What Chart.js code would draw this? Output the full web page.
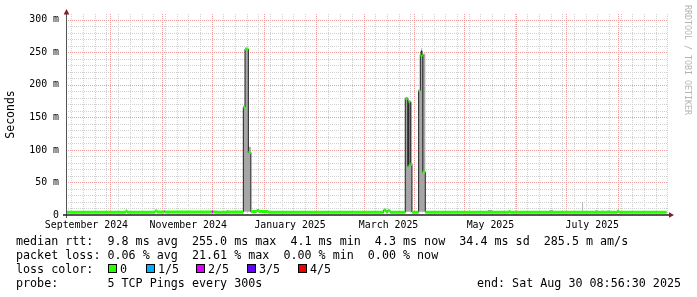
<!DOCTYPE html>
<html><head><meta charset="utf-8">
<script src="https://cdn.jsdelivr.net/npm/chart.js@4.4.1/dist/chart.umd.min.js"></script>
<style>
html,body{margin:0;padding:0;background:#fff;}
#wrap{position:relative;width:697px;height:297px;overflow:hidden;background:#fff;font-family:"DejaVu Sans Mono",monospace;color:#000;}
#c{position:absolute;left:0;top:0;}
.ln{position:absolute;font-size:11.7px;line-height:14px;white-space:pre;}
.box{position:absolute;width:7px;height:7px;border:1px solid #000;top:264px;}
#wm{position:absolute;left:683px;top:5px;writing-mode:vertical-rl;font-size:8.3px;line-height:9px;color:#b4b4b4;white-space:pre;}
</style></head>
<body>
<div id="wrap">
<canvas id="c" width="697" height="297"></canvas>
<div class="ln" style="left:16px;top:233.5px">median rtt:  9.8 ms avg  255.0 ms max  4.1 ms min  4.3 ms now  34.4 ms sd  285.5 m am/s</div>
<div class="ln" style="left:16px;top:247.5px">packet loss: 0.06 % avg  21.61 % max  0.00 % min  0.00 % now</div>
<div class="ln" style="left:16px;top:261.5px">loss color:</div>
<div id="legend"></div>
<div class="ln" style="left:16px;top:275.5px">probe:       5 TCP Pings every 300s</div>
<div class="ln" style="right:16px;top:275.5px">end: Sat Aug 30 08:56:30 2025</div>
<div id="wm">RRDTOOL / TOBI OETIKER</div>
</div>
<script>
// ---- time range ----
const startTime = "2024-09-04T08:56:30";
const endTime   = "2025-08-30T08:56:30";

// ---- data: each row starts a step that lasts until the next date ----
const breakDates = [
  "2024-09-04T08:56:30","2024-10-09T12:00","2024-10-10T12:00","2024-10-27T00:00","2024-10-28T12:00",
  "2024-11-01T12:00","2024-11-02T00:00","2024-11-30T00:00","2024-12-01T00:00","2024-12-03T00:00",
  "2024-12-09T00:00","2024-12-10T00:00","2024-12-19T00:00","2024-12-20T00:00","2024-12-22T00:00",
  "2024-12-23T12:00","2024-12-27T00:00","2024-12-28T12:00","2025-01-03T00:00","2025-03-13T00:00",
  "2025-03-14T12:00","2025-03-15T12:00","2025-03-17T00:00","2025-03-26T00:00","2025-03-27T12:00",
  "2025-03-28T00:00","2025-03-29T00:00","2025-03-30T00:00","2025-04-03T00:00","2025-04-04T00:00",
  "2025-04-04T12:00","2025-04-05T00:00","2025-04-05T12:00","2025-04-07T00:00","2025-05-14T12:00",
  "2025-05-17T00:00","2025-05-27T00:00","2025-05-28T00:00","2025-06-20T12:00","2025-06-22T12:00",
  "2025-07-10T00:00","2025-07-10T12:00","2025-07-18T00:00","2025-07-19T00:00","2025-07-22T00:00",
  "2025-07-22T12:00","2025-07-25T00:00","2025-07-26T12:00","2025-07-31T00:00","2025-08-01T00:00",
  "2025-08-29T12:00"
];
const medianMs = [
  4.1, 6.0, 4.1, 6.0, 4.8,
  4.8, 4.8, 4.8, 4.8, 4.1,
  4.8, 4.8, 166, 255, 96,
  5.2, 7.0, 5.2, 4.1, 7.5,
  4.5, 6.5, 4.1, 179, 75,
  174, 78, 4.3, 191, 246,
  252, 246, 66, 4.3, 4.3,
  4.3, 5.2, 4.3, 4.3, 4.3,
  4.3, 4.3, 4.3, 4.3, 4.3,
  4.3, 4.3, 4.3, 6.0, 4.3,
  4.3
];
const smokeLowMs = [
  4.1, 6.0, 4.1, 6.0, 4.8,
  4.8, 4.8, 4.8, 4.8, 4.1,
  4.8, 4.8, 5, 5, 5,
  5.2, 7.0, 5.2, 4.1, 7.5,
  4.5, 6.5, 4.1, 5, 5,
  5, 5, 4.3, 5, 5,
  5, 5, 5, 4.3, 4.3,
  4.3, 5.2, 4.3, 4.3, 4.3,
  4.3, 4.3, 4.3, 4.3, 4.3,
  4.3, 4.3, 4.3, 6.0, 4.3,
  4.3
];
const smokeHighMs = [
  4.1, 6.0, 4.1, 6.0, 4.8,
  8.0, 4.8, 4.8, 4.8, 4.1,
  7.6, 4.8, 166, 255, 105,
  5.2, 7.0, 5.2, 4.1, 7.5,
  4.5, 6.5, 4.1, 179, 179,
  174, 174, 4.3, 191, 250,
  256, 250, 248, 4.3, 7.6,
  4.3, 5.2, 4.3, 7.6, 4.3,
  19.5, 4.3, 7.6, 4.3, 7.6,
  4.3, 7.0, 4.3, 6.0, 4.3,
  4.3
];
const lossOf5 = [
  0,0,0,0,0, 0,0,2,0,0, 0,0,0,0,0, 0,0,0,0,0, 0,0,0,0,0,
  0,0,0,0,0, 0,0,0,0,0, 0,0,0,0,0, 0,0,0,0,0, 0,0,0,0,0, 0
];

// ---- axis ticks / labels ----
const monthStarts = ["2024-10-01","2024-11-01","2024-12-01","2025-01-01","2025-02-01","2025-03-01",
                     "2025-04-01","2025-05-01","2025-06-01","2025-07-01","2025-08-01"];
const firstWeekLine = "2024-09-07";
const xLabelDates = ["2024-09-16","2024-11-16","2025-01-16","2025-03-16","2025-05-16","2025-07-16"];
const xLabels = ["September 2024","November 2024","January 2025","March 2025","May 2025","July 2025"];
const yLabelValues = [0, 50, 100, 150, 200, 250, 300];
const yLabels = ["0", "50 m", "100 m", "150 m", "200 m", "250 m", "300 m"];
const yMinorStep = 10;
const yTop = 309;

// ---- legend ----
const lossNames  = ["0", "1/5", "2/5", "3/5", "4/5"];
const lossColors = ["#26ff00", "#00b0ff", "#dc00ff", "#6400ff", "#ee0000"];
const legendBoxX   = [108, 146, 196, 247, 298];
const legendLabelX = [120, 158, 208, 259, 310];

// ---- styles ----
const FONT = "'DejaVu Sans Mono', monospace";
const smokeColor = "#a6a6a6";
const minorGrid = "rgb(208,208,208)";
const majorGrid = "rgb(238,156,156)";
const arrowColor = "#801f1f";

const T = s => Date.parse((s.length === 10 ? s + "T00:00" : s) + "Z");
const DAY = 86400000;
const tStart = T(startTime), tEnd = T(endTime);
const xs = breakDates.map(T);

// legend DOM
const lg = document.getElementById('legend');
lossNames.forEach((n, i) => {
  const b = document.createElement('div'); b.className = 'box';
  b.style.left = legendBoxX[i] + 'px'; b.style.background = lossColors[i]; lg.appendChild(b);
  const t = document.createElement('div'); t.className = 'ln';
  t.style.left = legendLabelX[i] + 'px'; t.style.top = '261.5px'; t.textContent = n; lg.appendChild(t);
});

// x grid (weeks minor, months major) and labels
const monthT = monthStarts.map(T);
const xGrid = [];
for (let v = T(firstWeekLine); v < tEnd; v += 7 * DAY) {
  if (!monthT.includes(v)) xGrid.push({value: v, major: false});
}
monthT.forEach(v => xGrid.push({value: v, major: true}));
const xLabelTicks = xLabelDates.map((d, i) => ({value: T(d), txt: xLabels[i]}));

// y grid / labels
const yGrid = [];
for (let v = yMinorStep; v <= 300; v += yMinorStep) yGrid.push({value: v, major: yLabelValues.includes(v)});
const yLabelTicks = yLabelValues.map((v, i) => ({value: v, txt: yLabels[i]}));

// datasets
const lowPts  = xs.map((x, i) => ({x, y: smokeLowMs[i]}));
const highPts = xs.map((x, i) => ({x, y: smokeHighMs[i]}));
const medPts  = xs.map((x, i) => ({x, y: medianMs[i]}));
const lossSets = lossColors.map((c, L) => {
  const pts = [];
  for (let i = 0; i < xs.length - 1; i++) {
    if (lossOf5[i] === L) pts.push({x: xs[i], y: medianMs[i]}, {x: xs[i + 1], y: medianMs[i]}, {x: xs[i + 1], y: null});
  }
  return {data: pts, borderColor: c, borderWidth: 3, pointRadius: 0, fill: false, spanGaps: false, order: 1};
}).filter(d => d.data.length);

// dotted grid, 1px on / 1px off, placed through the chart's scales
const gridPlugin = {
  id: 'rrdgrid',
  beforeDatasetsDraw(chart) {
    const {ctx, chartArea: a, scales: {x, y}} = chart;
    const top = Math.round(a.top), bot = Math.round(a.bottom), left = Math.round(a.left), right = Math.round(a.right);
    const evenLeft = left % 2 ? left + 1 : left;
    ctx.save();
    [false, true].forEach(maj => {
      ctx.fillStyle = maj ? majorGrid : minorGrid;
      xGrid.filter(t => t.major === maj).forEach(t => {
        const p = x.getPixelForValue(t.value);
        const px = maj ? 2 * Math.round((p - 0.5) / 2) : Math.round(p);
        for (let yy = top; yy < bot; yy += 2) ctx.fillRect(px, yy, 1, 1);
      });
      yGrid.filter(t => t.major === maj).forEach(t => {
        const py = Math.round(y.getPixelForValue(t.value));
        for (let xx = evenLeft; xx < right; xx += 2) ctx.fillRect(xx, py, 1, 1);
      });
    });
    ctx.restore();
  }
};

const axisPlugin = {
  id: 'rrdaxes',
  afterDraw(chart) {
    const {ctx, chartArea: a} = chart;
    const ax = Math.round(a.left) - 0.5;
    ctx.save();
    ctx.strokeStyle = '#555'; ctx.lineWidth = 1;
    ctx.beginPath(); ctx.moveTo(ax, a.bottom + 3); ctx.lineTo(ax, a.top - 3); ctx.stroke();
    ctx.strokeStyle = '#1f1f1f'; ctx.lineWidth = 1.6;
    ctx.beginPath(); ctx.moveTo(a.left - 4, a.bottom); ctx.lineTo(a.right + 2, a.bottom); ctx.stroke();
    ctx.fillStyle = arrowColor;
    ctx.beginPath(); ctx.moveTo(ax - 2.8, a.top + 0.5); ctx.lineTo(ax + 2.8, a.top + 0.5); ctx.lineTo(ax, a.top - 5); ctx.closePath(); ctx.fill();
    ctx.beginPath(); ctx.moveTo(a.right + 1, a.bottom - 2.8); ctx.lineTo(a.right + 1, a.bottom + 2.8); ctx.lineTo(a.right + 6, a.bottom); ctx.closePath(); ctx.fill();
    ctx.restore();
  }
};

new Chart(document.getElementById('c'), {
  type: 'line',
  data: {datasets: [
    {data: lowPts, stepped: true, borderWidth: 0, borderColor: 'rgba(0,0,0,0)', pointRadius: 0, fill: false, order: 3},
    {data: highPts, stepped: true, borderWidth: 0, borderColor: 'rgba(0,0,0,0)', backgroundColor: smokeColor, pointRadius: 0, fill: '-1', order: 3},
    {data: medPts, stepped: true, borderWidth: 1, borderColor: '#202020', pointRadius: 0, fill: false, order: 2},
    ...lossSets
  ]},
  options: {
    responsive: false, animation: false, events: [],
    layout: {padding: {top: 13, right: 29, bottom: 0, left: 0}},
    plugins: {legend: {display: false}, tooltip: {enabled: false}},
    scales: {
      x: {
        type: 'linear', min: tStart, max: tEnd,
        afterFit: s => { s.height = 82; },
        afterBuildTicks: s => { s.ticks = xLabelTicks.map(t => Object.assign({}, t)); },
        grid: {display: false, drawTicks: false, tickLength: 0},
        border: {display: false},
        ticks: {autoSkip: false, maxRotation: 0, minRotation: 0, padding: 4, color: '#000',
                font: {family: FONT, size: 9.9},
                callback: (v, i, t) => t[i].txt}
      },
      y: {
        type: 'linear', min: 0, max: yTop,
        afterFit: s => { s.width = 67; },
        afterBuildTicks: s => { s.ticks = yLabelTicks.map(t => Object.assign({}, t)); },
        grid: {display: false, drawTicks: false, tickLength: 0},
        border: {display: false},
        ticks: {autoSkip: false, padding: 8, color: '#000', font: {family: FONT, size: 9.9},
                callback: (v, i, t) => t[i].txt},
        title: {display: true, text: 'Seconds', color: '#000', font: {family: FONT, size: 11.5}, padding: {top: 4, bottom: 4}}
      }
    }
  },
  plugins: [gridPlugin, axisPlugin]
});
</script>
</body></html>
